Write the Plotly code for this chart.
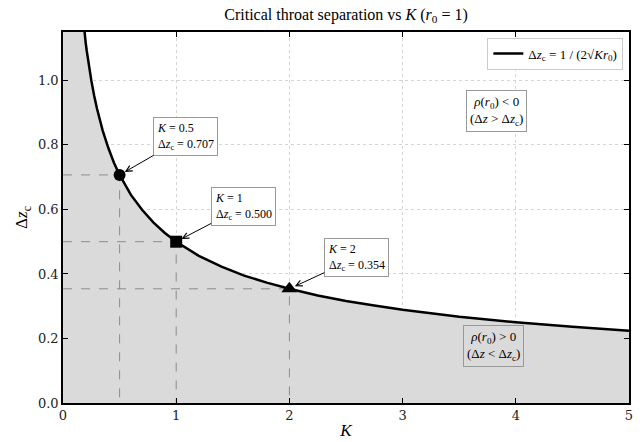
import plotly.graph_objects as go

# ---- data ----
K_CURVE = [0.001, 0.01, 0.03, 0.05, 0.08, 0.10, 0.12, 0.15, 0.17, 0.19, 0.20, 0.21,
           0.225, 0.25, 0.275, 0.30, 0.35, 0.40, 0.45, 0.50, 0.60, 0.70, 0.80, 0.90,
           1.00, 1.10, 1.20, 1.40, 1.60, 1.80, 2.00, 2.25, 2.50, 2.75, 3.00, 3.50,
           4.00, 4.50, 5.00]
DZ_CURVE = [15.811, 5.000, 2.887, 2.236, 1.768, 1.581, 1.443, 1.291, 1.213, 1.147, 1.118, 1.091,
            1.054, 1.000, 0.953, 0.913, 0.845, 0.791, 0.745, 0.707, 0.645, 0.598, 0.559, 0.527,
            0.500, 0.477, 0.456, 0.423, 0.395, 0.373, 0.354, 0.333, 0.316, 0.302, 0.289, 0.267,
            0.250, 0.236, 0.224]

K_KEY = [0.5, 1, 2]
DZ_KEY = [0.707, 0.500, 0.354]
KEY_SYMBOLS = ["circle", "square", "triangle-up"]
KEY_SIZES = [12, 12, 14]
KEY_LABELS = ["0.5", "1", "2"]

X_TICKS = [0, 1, 2, 3, 4, 5]
Y_TICKS = [0.0, 0.2, 0.4, 0.6, 0.8, 1.0]

SERIF = "Liberation Serif"
TICKFONT = "DejaVu Serif"

fig = go.Figure()

# filled region under the curve
fig.add_trace(go.Scatter(
    x=K_CURVE, y=DZ_CURVE, mode="none",
    fill="tozeroy", fillcolor="#dadada",
    showlegend=False, hoverinfo="skip",
))

# dashed guide lines
for k, dz in zip(K_KEY, DZ_KEY):
    fig.add_trace(go.Scatter(
        x=[0, k, k], y=[dz, dz, 0], mode="lines",
        line=dict(color="#8c8c8c", width=1, dash="dash"),
        showlegend=False, hoverinfo="skip",
    ))

# curve
fig.add_trace(go.Scatter(
    x=K_CURVE, y=DZ_CURVE, mode="lines",
    line=dict(color="black", width=2.5),
    name="Δ<i>z</i><sub>c</sub> = 1 / (2√<i>Kr</i><sub>0</sub>)",
    showlegend=True,
))

# key points
for k, dz, sym, sz in zip(K_KEY, DZ_KEY, KEY_SYMBOLS, KEY_SIZES):
    fig.add_trace(go.Scatter(
        x=[k], y=[dz], mode="markers",
        marker=dict(symbol=sym, size=sz, color="black"),
        showlegend=False,
    ))

annotations = []
offsets = [(66, -38), (67, -35), (67, -31)]
for (k, dz, lab), (ax, ay) in zip(zip(K_KEY, DZ_KEY, KEY_LABELS), offsets):
    annotations.append(dict(
        x=k, y=dz, xref="x", yref="y", ax=ax, ay=ay,
        text=f"<i>K</i> = {lab}<br>Δ<i>z</i><sub>c</sub> = {dz:.3f}",
        align="left", showarrow=True, arrowhead=5, arrowsize=1.2, arrowwidth=1,
        arrowcolor="black", standoff=6,
        font=dict(family=SERIF, size=12, color="black"),
        bgcolor="white", bordercolor="#999999", borderwidth=1, borderpad=3,
    ))

annotations.append(dict(
    x=3.83, y=0.905, xref="x", yref="y", showarrow=False,
    text="<i>ρ</i>(<i>r</i><sub>0</sub>) < 0<br>(Δ<i>z</i> > Δ<i>z</i><sub>c</sub>)",
    font=dict(family=SERIF, size=13, color="black"),
    bgcolor="white", bordercolor="#999999", borderwidth=1, borderpad=3,
))
annotations.append(dict(
    x=3.80, y=0.178, xref="x", yref="y", showarrow=False,
    text="<i>ρ</i>(<i>r</i><sub>0</sub>) > 0<br>(Δ<i>z</i> < Δ<i>z</i><sub>c</sub>)",
    font=dict(family=SERIF, size=13, color="black"),
    bgcolor="#dadada", bordercolor="#999999", borderwidth=1, borderpad=3,
))

fig.update_layout(
    width=640, height=442,
    margin=dict(l=63, r=11, t=32, b=39),
    paper_bgcolor="white", plot_bgcolor="white",
    title=dict(text="Critical throat separation vs <i>K</i> (<i>r</i><sub>0</sub> = 1)",
               x=0.5, xref="paper", y=0.968, yref="container", yanchor="middle",
               font=dict(family=SERIF, size=16, color="black")),
    legend=dict(x=0.99, y=0.985, xanchor="right", yanchor="top",
                bgcolor="white", bordercolor="#cccccc", borderwidth=1,
                font=dict(family=SERIF, size=13, color="black")),
    annotations=annotations,
    showlegend=True,
)

fig.update_xaxes(
    range=[0, 5], tickvals=X_TICKS, ticktext=[str(v) for v in X_TICKS],
    ticks="inside", ticklen=5, tickcolor="black", mirror="ticks",
    showline=True, linecolor="black", linewidth=1.5,
    showgrid=True, gridcolor="#d4d4d4", griddash="dot", gridwidth=1,
    zeroline=False, automargin=False,
    tickfont=dict(family=TICKFONT, size=13, color="#222"),
    title=dict(text="<i>K</i>", font=dict(family=SERIF, size=17, color="black"), standoff=2),
)
fig.update_yaxes(
    range=[0, 1.15], tickvals=Y_TICKS, ticktext=[f"{v:.1f}" for v in Y_TICKS],
    ticks="inside", ticklen=5, tickcolor="black", mirror="ticks",
    showline=True, linecolor="black", linewidth=1.5,
    showgrid=True, gridcolor="#d4d4d4", griddash="dot", gridwidth=1,
    zeroline=False, automargin=False,
    tickfont=dict(family=TICKFONT, size=13, color="#222"),
    title=dict(text="Δ<i>z</i><sub>c</sub>", font=dict(family=SERIF, size=17, color="black"), standoff=6),
)

fig.write_html("out.html")
